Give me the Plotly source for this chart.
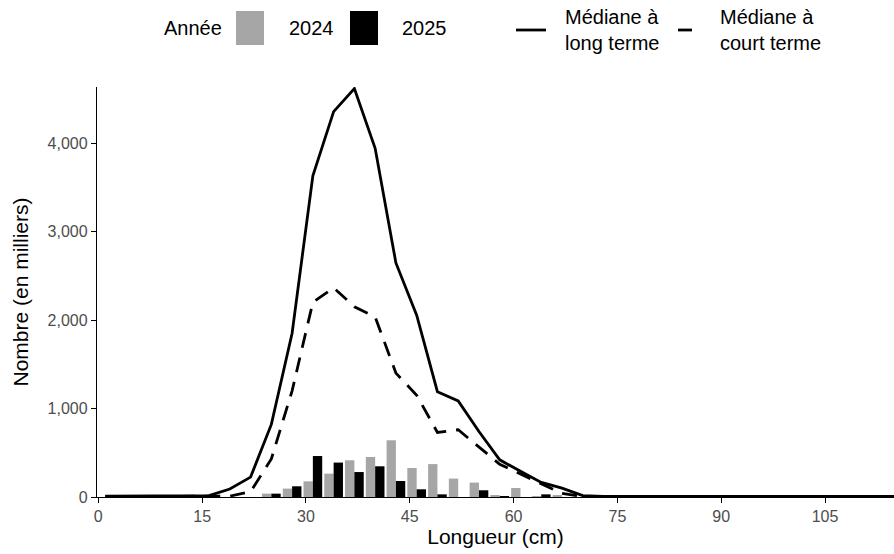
import plotly.graph_objects as go

# ---------------- data ----------------
lengths = [1, 4, 7, 10, 13, 16, 19, 22, 25, 28, 31, 34, 37, 40, 43, 46, 49, 52, 55, 58,
           61, 64, 67, 70, 73, 76, 79, 82, 85, 88, 91, 94, 97, 100, 103, 106, 109, 112, 115]
median_long = [10, 10, 10, 10, 10, 15, 90, 225, 820, 1850, 3630, 4355, 4615, 3940, 2645, 2055,
               1190, 1085, 740, 420, 290, 165, 100, 15, 8, 8, 8, 8, 8, 8, 8, 8, 8, 8, 8, 8, 8, 8, 8]
median_short = [5, 5, 5, 5, 5, 5, 10, 60, 430, 1200, 2200, 2365, 2150, 2035, 1400, 1150,
                730, 760, 560, 370, 260, 150, 40, 5, 5, 5, 5, 5, 5, 5, 5, 5, 5, 5, 5, 5, 5, 5, 5]

bar_lengths = [25, 28, 31, 34, 37, 40, 43, 46, 49, 52, 55, 58, 61, 64, 67]
n_2024 = [38, 95, 177, 264, 415, 452, 641, 328, 372, 208, 163, 19, 102, 8, 15]
n_2025 = [38, 121, 463, 389, 282, 347, 181, 87, 30, 0, 76, 8, 0, 30, 0]

x_ticks = [0, 15, 30, 45, 60, 75, 90, 105]
y_ticks = [0, 1000, 2000, 3000, 4000]

# ---------------- layout constants ----------------
W, H = 894, 554
L, R, T, B = 97, 0, 87, 57
PW, PH = W - L - R, H - T - B
FONT = "Liberation Sans, Arial, Helvetica, sans-serif"
GREY = "#a6a6a6"
LEG_SIZE = 20


def xp(px):
    return (px - L) / PW


def yp(py):
    return (H - B - py) / PH


fig = go.Figure()
fig.add_trace(go.Bar(x=bar_lengths, y=n_2024, name="2024", marker_color=GREY,
                     marker_line_width=0, showlegend=False))
fig.add_trace(go.Bar(x=bar_lengths, y=n_2025, name="2025", marker_color="#000000",
                     marker_line_width=0, showlegend=False))
fig.add_trace(go.Scatter(x=lengths, y=median_long, mode="lines", name="Médiane à long terme",
                         line=dict(color="black", width=2.8), showlegend=False))
fig.add_trace(go.Scatter(x=lengths, y=median_short, mode="lines", name="Médiane à court terme",
                         line=dict(color="black", width=2.8, dash="15px,10px"), showlegend=False))

shapes = []
annotations = []


def leg_text(text, px, py):
    annotations.append(dict(text=text, x=xp(px), y=yp(py), xref="paper", yref="paper",
                            xanchor="left", yanchor="middle", align="left", showarrow=False,
                            font=dict(size=LEG_SIZE, color="black", family=FONT)))


leg_text("Année", 162, 28)
shapes.append(dict(type="rect", xref="paper", yref="paper", x0=xp(236), x1=xp(264),
                   y0=yp(45), y1=yp(11), fillcolor=GREY, line=dict(width=0)))
leg_text("2024", 287, 28)
shapes.append(dict(type="rect", xref="paper", yref="paper", x0=xp(350), x1=xp(378),
                   y0=yp(45), y1=yp(11), fillcolor="black", line=dict(width=0)))
leg_text("2025", 400, 28)
shapes.append(dict(type="line", xref="paper", yref="paper", x0=xp(516), x1=xp(546),
                   y0=yp(30), y1=yp(30), line=dict(color="black", width=2.8)))
leg_text("Médiane à<br>long terme", 563, 30)
shapes.append(dict(type="line", xref="paper", yref="paper", x0=xp(678), x1=xp(692),
                   y0=yp(30), y1=yp(30), line=dict(color="black", width=2.8)))
leg_text("Médiane à<br>court terme", 718, 30)

fig.update_layout(
    width=W, height=H,
    margin=dict(l=L, r=R, t=T, b=B, pad=0),
    paper_bgcolor="white", plot_bgcolor="white",
    barmode="group", bargap=0.1, bargroupgap=0,
    font=dict(family=FONT, color="black"),
    shapes=shapes, annotations=annotations,
    showlegend=False,
)
fig.update_xaxes(
    range=[-0.19, 114.97], tickvals=x_ticks, ticks="outside", ticklen=5, tickwidth=1.2,
    tickcolor="black", showline=True, linecolor="black", linewidth=1.4, showgrid=False,
    zeroline=False, tickfont=dict(size=16, color="#4d4d4d", family=FONT),
    title=dict(text="Longueur (cm)", font=dict(size=21, color="black", family=FONT), standoff=4),
    automargin=False,
)
fig.update_yaxes(
    range=[0, 4633], tickvals=y_ticks, tickformat=",", ticks="outside", ticklen=5,
    tickwidth=1.2, tickcolor="black", showline=True, linecolor="black", linewidth=1.4,
    showgrid=False, zeroline=False, tickfont=dict(size=16, color="#4d4d4d", family=FONT),
    title=dict(text="Nombre (en milliers)", font=dict(size=21, color="black", family=FONT),
               standoff=13),
    automargin=False,
)

fig.write_html("out.html")
